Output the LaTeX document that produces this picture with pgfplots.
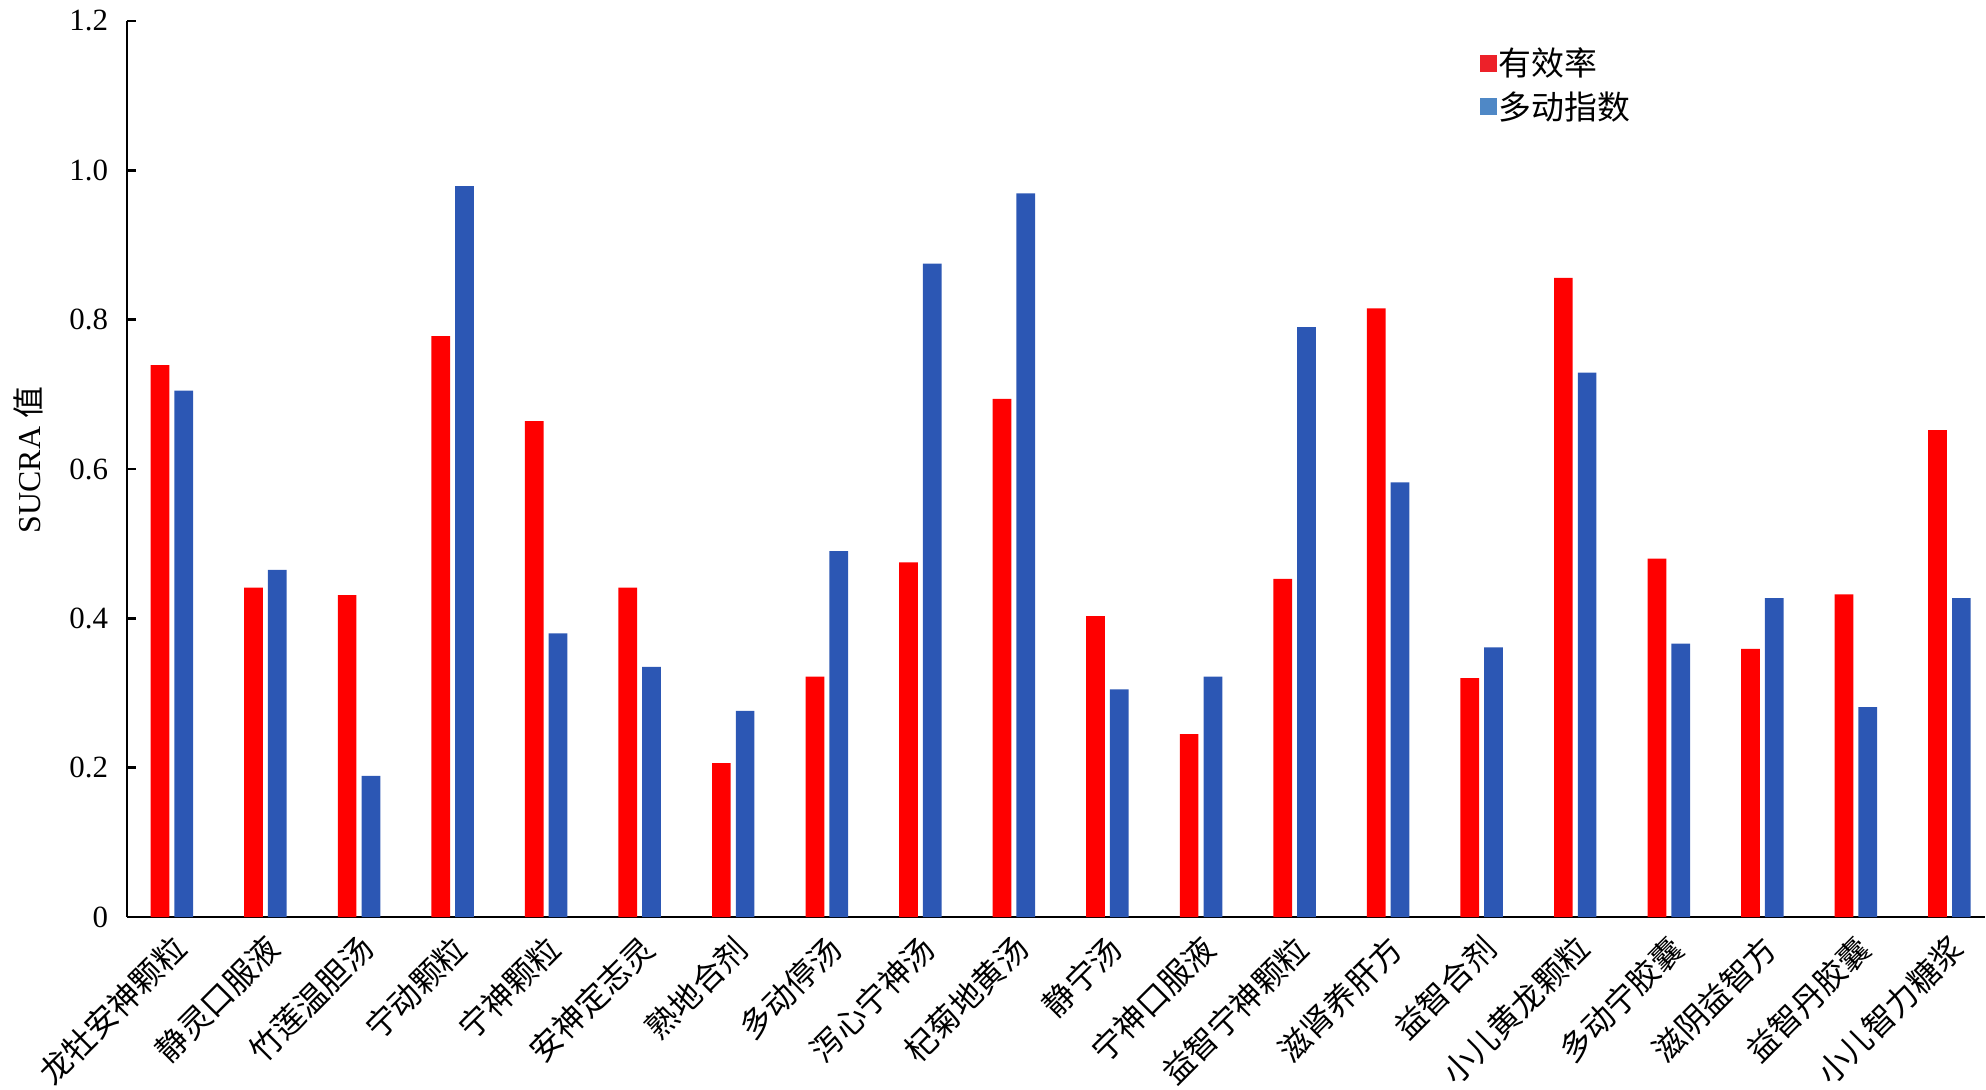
\documentclass[border=0pt]{standalone}
\usepackage{pgfplots}
\pgfplotsset{compat=1.18}
\usepackage{fontspec}
\setmainfont{Liberation Serif}
\newfontfamily\cjk{Noto Sans CJK SC}
\definecolor{barred}{RGB}{255,0,0}
\definecolor{barblue}{RGB}{44,87,180}
\definecolor{legred}{RGB}{237,33,41}
\definecolor{legblue}{RGB}{79,136,198}
\begin{document}
\begin{tikzpicture}
\begin{axis}[
  scale only axis,
  width=929bp, height=448bp,
  xmin=-0.48, xmax=19.38,
  ymin=0, ymax=1.2,
  axis lines*=left,
  axis line style={line width=1.3bp, black},
  xtick={0,...,19},
  xticklabels={龙牡安神颗粒,静灵口服液,竹莲温胆汤,宁动颗粒,宁神颗粒,安神定志灵,熟地合剂,多动停汤,泻心宁神汤,杞菊地黄汤,静宁汤,宁神口服液,益智宁神颗粒,滋肾养肝方,益智合剂,小儿黄龙颗粒,多动宁胶囊,滋阴益智方,益智丹胶囊,小儿智力糖浆},
  xtick style={draw=none},
  xticklabel style={font=\cjk\fontsize{16}{18}\selectfont, rotate=45, anchor=north east, xshift=-6bp, yshift=-4.5bp, inner sep=0pt},
  ytick={0,0.2,0.4,0.6,0.8,1.0,1.2},
  yticklabels={0,0.2,0.4,0.6,0.8,1.0,1.2},
  ytick style={line width=1.3bp, black},
  tick align=inside,
  major tick length=4.5bp,
  yticklabel style={font=\fontsize{15.5}{18}\selectfont, anchor=east, xshift=-6bp},
  /pgf/number format/assume math mode=true,
  ylabel={SUCRA {\cjk 值}},
  ylabel style={font=\fontsize{16}{19}\selectfont, at={(rel axis cs:0,0.51)}, anchor=center, yshift=49.5bp},
  legend style={at={(rel axis cs:0.728,0.973)}, anchor=north west, draw=none, fill=none,
    font=\cjk\fontsize{16.5}{19}\selectfont, row sep=4.5bp, inner sep=0pt,
    nodes={inner sep=1bp}},
  legend cell align=left,
]
\addlegendimage{legend image code/.code={\fill[legred] (0bp,-4bp) rectangle (8bp,4bp);}}
\addlegendentry{有效率}
\addlegendimage{legend image code/.code={\fill[legblue] (0bp,-4bp) rectangle (8bp,4bp);}}
\addlegendentry{多动指数}
\addplot[ybar, bar width=0.2, bar shift=-0.127, fill=barred, draw=none, forget plot] coordinates {
(0,0.739) (1,0.441) (2,0.431) (3,0.778) (4,0.664) (5,0.441) (6,0.206) (7,0.322) (8,0.475) (9,0.694)
(10,0.403) (11,0.245) (12,0.453) (13,0.815) (14,0.320) (15,0.856) (16,0.480) (17,0.359) (18,0.432) (19,0.652)};
\addplot[ybar, bar width=0.2, bar shift=0.127, fill=barblue, draw=none, forget plot] coordinates {
(0,0.705) (1,0.465) (2,0.189) (3,0.979) (4,0.380) (5,0.335) (6,0.276) (7,0.490) (8,0.875) (9,0.969)
(10,0.305) (11,0.322) (12,0.790) (13,0.582) (14,0.361) (15,0.729) (16,0.366) (17,0.427) (18,0.281) (19,0.427)};
\end{axis}
\pgfresetboundingbox
\path[use as bounding box] ([xshift=-63.5bp,yshift=-86.5bp]current axis.south west) rectangle ([xshift=0.5bp,yshift=10.5bp]current axis.north east);
\end{tikzpicture}
\end{document}
